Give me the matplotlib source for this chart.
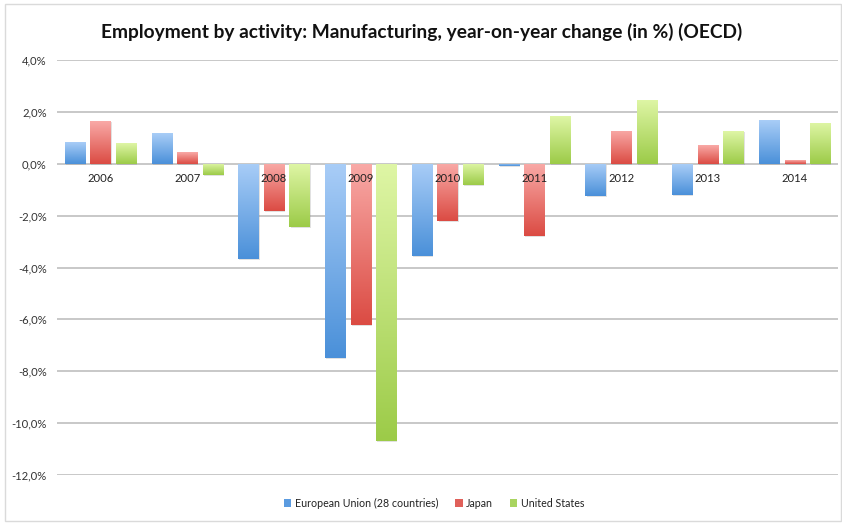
import numpy as np
import matplotlib
matplotlib.use("Agg")
import matplotlib.pyplot as plt
from matplotlib.colors import LinearSegmentedColormap
from matplotlib.patches import Patch, Rectangle
from matplotlib.ticker import FuncFormatter, MultipleLocator
import matplotlib.patheffects as pe

plt.rcParams['font.family'] = ['Lato', 'DejaVu Sans']

years = ["2006", "2007", "2008", "2009", "2010", "2011", "2012", "2013", "2014"]
series_names = ["European Union (28 countries)", "Japan", "United States"]
eu = [0.84, 1.18, -3.68, -7.49, -3.57, -0.08, -1.25, -1.19, 1.68]
japan = [1.64, 0.44, -1.83, -6.23, -2.22, -2.80, 1.28, 0.73, 0.13]
usa = [0.79, -0.44, -2.44, -10.70, -0.83, 1.83, 2.47, 1.26, 1.59]

# (light top, dark bottom) for each series' gradient fill
gradients = [("#a9cdf7", "#4a90d9"), ("#f9aaa7", "#db4b43"), ("#dff6a6", "#9ccb48")]
legend_colors = ["#5b9be0", "#e0605a", "#a9d460"]

fig = plt.figure(figsize=(8.42, 5.23), dpi=100)
ax = fig.add_axes([57 / 842, 1 - 475 / 523, (838 - 57) / 842, (475 - 60) / 523])

# chart frame
fig.patches.append(Rectangle((5 / 842, 2 / 523), 0.999 - 5 / 842, 517 / 523,
                             transform=fig.transFigure, fill=False,
                             edgecolor="#dadada", linewidth=1.0))

x = np.arange(len(years))
slot = 0.294
width = 0.232
values = [eu, japan, usa]

grad = np.linspace(0, 1, 256).reshape(-1, 1)
for i, (vals, (c_top, c_bot)) in enumerate(zip(values, gradients)):
    cmap = LinearSegmentedColormap.from_list(f"g{i}", [c_top, c_bot])
    bars = ax.bar(x + (i - 1) * slot, vals, width=width, color=c_bot,
                  linewidth=0, zorder=2)
    for b in bars:
        b.set_path_effects([pe.SimplePatchShadow(offset=(0.8, -0.8),
                                                 shadow_rgbFace="#888888",
                                                 alpha=0.25),
                            pe.Normal()])
        x0, y0 = b.get_x(), b.get_y()
        w, h = b.get_width(), b.get_height()
        ylo, yhi = min(y0, y0 + h), max(y0, y0 + h)
        im = ax.imshow(grad, cmap=cmap, aspect="auto",
                       extent=(x0, x0 + w, ylo, yhi), origin="upper",
                       zorder=3, interpolation="bilinear")
        im.set_clip_path(b)

ax.set_xlim(-0.5, len(years) - 0.5)
ax.set_ylim(-12, 4)
ax.yaxis.set_major_locator(MultipleLocator(2))
ax.yaxis.set_major_formatter(FuncFormatter(lambda v, p: f"{v:.1f}%".replace(".", ",")))
ax.grid(axis="y", color="#c4c4c4", linewidth=1.3, zorder=0)
ax.set_axisbelow(True)
ax.set_xticks([])
ax.tick_params(axis="y", length=0, pad=7.5, labelsize=8.1, labelcolor="#333333")
for s in ax.spines.values():
    s.set_visible(False)

for xi, yr in zip(x, years):
    ax.annotate(yr, (xi, 0), xytext=(0, -10.5), textcoords="offset points",
                ha="center", va="center", fontsize=8.1, color="#222222", zorder=5)

fig.text(422 / 842, 1 - 32 / 523,
         "Employment by activity: Manufacturing, year-on-year change (in %) (OECD)",
         ha="center", va="center", fontsize=13.8, fontweight="bold", color="#111111")

handles = [Patch(facecolor=c, edgecolor="none") for c in legend_colors]
fig.legend(handles, series_names, loc="center", ncol=3,
           bbox_to_anchor=(434 / 842, 1 - 503 / 523), frameon=False,
           fontsize=7.7, handlelength=0.7, handleheight=0.7,
           handletextpad=0.3, columnspacing=1.6, labelcolor="#222222")

fig.savefig("out.png", dpi=100, facecolor="white")
